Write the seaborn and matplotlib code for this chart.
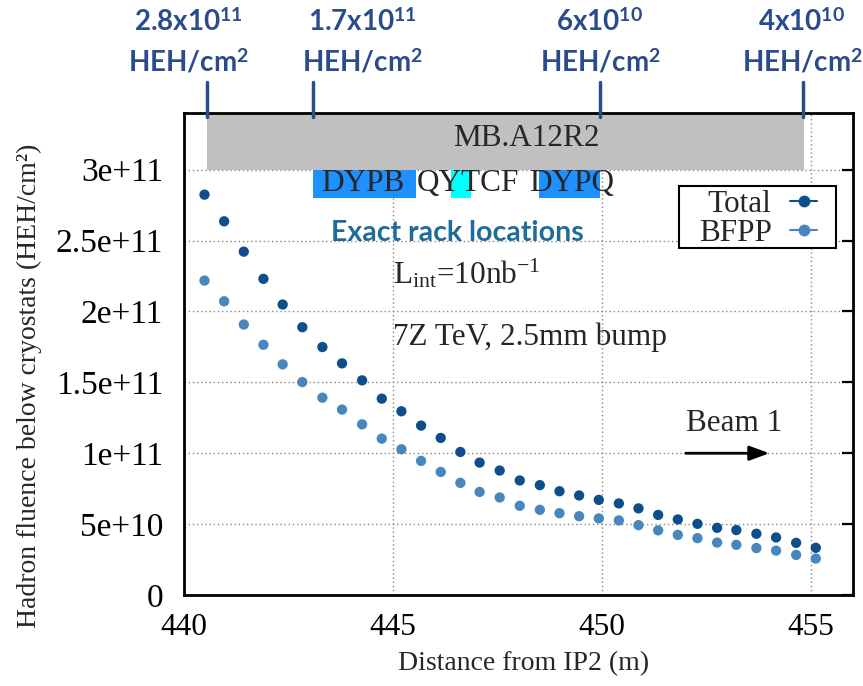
import matplotlib
matplotlib.use("Agg")
import matplotlib.pyplot as plt
import matplotlib.transforms as mtransforms
from matplotlib.lines import Line2D
from matplotlib.patches import Rectangle
import seaborn as sns
import pandas as pd

# ---------------- data ----------------
distance = [440.49, 440.96, 441.43, 441.90, 442.36, 442.83, 443.31, 443.78,
            444.26, 444.73, 445.20, 445.67, 446.14, 446.61, 447.07, 447.55,
            448.03, 448.51, 448.98, 449.45, 449.92, 450.40, 450.87, 451.34,
            451.81, 452.28, 452.75, 453.21, 453.69, 454.16, 454.64, 455.11]
total = [2.824e11, 2.636e11, 2.422e11, 2.230e11, 2.049e11, 1.889e11, 1.749e11, 1.634e11,
         1.514e11, 1.385e11, 1.296e11, 1.195e11, 1.108e11, 1.009e11, 0.934e11, 0.878e11,
         0.808e11, 0.775e11, 0.732e11, 0.702e11, 0.671e11, 0.646e11, 0.611e11, 0.565e11,
         0.533e11, 0.502e11, 0.474e11, 0.458e11, 0.432e11, 0.406e11, 0.368e11, 0.333e11]
bfpp = [2.218e11, 2.072e11, 1.908e11, 1.765e11, 1.627e11, 1.502e11, 1.392e11, 1.308e11,
        1.204e11, 1.103e11, 1.028e11, 0.946e11, 0.868e11, 0.791e11, 0.727e11, 0.688e11,
        0.629e11, 0.601e11, 0.577e11, 0.556e11, 0.540e11, 0.526e11, 0.493e11, 0.456e11,
        0.424e11, 0.401e11, 0.370e11, 0.354e11, 0.331e11, 0.313e11, 0.283e11, 0.257e11]
series_names = ["Total", "BFPP"]

xticks = [440, 445, 450, 455]
yticks = [0, 5e10, 1e11, 1.5e11, 2e11, 2.5e11, 3e11]
ytick_labels = ["0", "5e+10", "1e+11", "1.5e+11", "2e+11", "2.5e+11", "3e+11"]

# rack / element annotations (x start, x end)
rack_name = "MB.A12R2"
rack_span = (440.55, 454.83)
elements = ["DYPB", "QYTCF", "DYPQ"]
element_boxes = [(443.09, 445.56), (446.38, 446.87), (448.48, 449.94)]
element_text_x = [444.28, 446.79, 449.26]

fluence_labels = [r"2.8x10$^{\mathbf{11}}$", r"1.7x10$^{\mathbf{11}}$",
                  r"6x10$^{\mathbf{10}}$", r"4x10$^{\mathbf{10}}$"]
fluence_marks = [440.55, 443.09, 449.96, 454.80]
fluence_label_px = [188, 362, 600, 802]

# ---------------- style ----------------
sns.set_style("white")
plt.rcParams["font.family"] = ["Liberation Serif", "DejaVu Serif"]
plt.rcParams["mathtext.fontset"] = "custom"
plt.rcParams["mathtext.rm"] = "Liberation Serif"
plt.rcParams["mathtext.it"] = "Liberation Serif:italic"
plt.rcParams["mathtext.bf"] = "Lato:bold"

c_total = "#0E4E8C"
c_bfpp = "#4787BE"
navy = "#2B4C8C"
teal = "#1F6B99"
FS = 22.5

W, H = 863, 686
fig = plt.figure(figsize=(W / 100, H / 100), dpi=100)
ax = fig.add_axes([184 / W, 1 - 595 / H, (853 - 184) / W, (595 - 113) / H])

df = pd.DataFrame({
    "distance": distance * 2,
    "fluence": total + bfpp,
    "series": [series_names[0]] * len(total) + [series_names[1]] * len(bfpp),
})
sns.scatterplot(data=df, x="distance", y="fluence", hue="series",
                palette={"Total": c_total, "BFPP": c_bfpp}, s=55,
                edgecolor="none", legend=False, ax=ax, zorder=4)

ax.set_xlim(440, 456)
ax.set_ylim(0, 3.4e11)
ax.set_xticks(xticks)
ax.set_xticklabels([str(t) for t in xticks])
ax.set_yticks(yticks)
ax.set_yticklabels(ytick_labels)
ax.grid(True, color="#888888", linestyle=(0, (1, 2)), linewidth=1.0)
ax.set_axisbelow(True)
ax.tick_params(axis="both", which="major", direction="in", length=8, width=1.6,
               right=True, top=False, colors="black")
ax.tick_params(axis="y", pad=15, labelsize=24)
ax.tick_params(axis="x", pad=13, labelsize=22.5)
for s in ax.spines.values():
    s.set_linewidth(2)
    s.set_color("black")

ax.set_xlabel("Distance from IP2 (m)", fontsize=20, va="center")
ax.xaxis.set_label_coords((524 - 184) / 669, (595 - 664) / 482)
ax.set_ylabel("Hadron fluence below cryostats (HEH/cm²)", fontsize=20, va="center")
ax.yaxis.set_label_coords((29 - 184) / 669, (595 - 386) / 482)

# gray rack bar
ax.add_patch(Rectangle((rack_span[0], 3.0e11), rack_span[1] - rack_span[0], 0.4e11,
                       facecolor="#C0C0C0", edgecolor="none", zorder=2))
ax.text(448.2, 3.22e11, rack_name, ha="center", va="center", fontsize=FS, zorder=3)

# element boxes
box_colors = ["#1E90FF", "#00FFFF", "#1E90FF"]
for (x0, x1), col in zip(element_boxes, box_colors):
    ax.add_patch(Rectangle((x0, 2.8e11), x1 - x0, 0.2e11, facecolor=col,
                           edgecolor="none", zorder=2))
for name, xt in zip(elements, element_text_x):
    ax.text(xt, 2.9e11, name, ha="center", va="center", fontsize=FS, zorder=3)

ax.text(446.55, 2.555e11, "Exact rack locations", ha="center", va="center",
        fontsize=20.5, color=teal, fontweight="bold", family="Lato", zorder=3)
ax.text(445.0, 2.27e11, r"L$_{\mathrm{int}}$=10nb$^{\mathrm{-1}}$", ha="left",
        va="center", fontsize=FS, zorder=3)
ax.text(445.0, 1.82e11, "7Z TeV, 2.5mm bump", ha="left", va="center",
        fontsize=FS, zorder=3)
ax.text(452.0, 1.21e11, "Beam 1", ha="left", va="center", fontsize=FS, zorder=3)
ax.annotate("", xy=(454.0, 1.0e11), xytext=(452.0, 1.0e11),
            arrowprops=dict(arrowstyle="-|>,head_length=0.6,head_width=0.22",
                            mutation_scale=20, color="black", lw=2,
                            shrinkA=0, shrinkB=0), zorder=3)

# legend (frame drawn separately so its padding matches)
ax.add_patch(Rectangle(((679 - 184) / 669, (595 - 248) / 482), (836 - 679) / 669,
                       (248 - 186) / 482, transform=ax.transAxes, facecolor="white",
                       edgecolor="black", lw=1.5, zorder=5))
handles = [Line2D([0], [0], color=c_total, marker="o", markersize=7.5, lw=1.5),
           Line2D([0], [0], color=c_bfpp, marker="o", markersize=7.5, lw=1.5)]
leg = ax.legend(handles, series_names, loc="upper right",
                bbox_to_anchor=((817 - 184) / 669, (595 - 190) / 482), markerfirst=False,
                frameon=False, fontsize=FS, handlelength=0.85, borderpad=0.0,
                labelspacing=0.0, handletextpad=0.6, borderaxespad=0)
leg.set_zorder(6)

# fluence labels above the plot
trans = mtransforms.blended_transform_factory(ax.transData, fig.transFigure)
for xm in fluence_marks:
    ax.plot([xm, xm], [1 - 82 / H, 1 - 117 / H], color=navy, lw=2.5,
            transform=trans, clip_on=False, zorder=6)
for lab, px in zip(fluence_labels, fluence_label_px):
    fig.text(px / W, 1 - 22 / H, lab, ha="center", va="center", fontsize=20,
             color=navy, fontweight="bold", family="Lato")
    fig.text(px / W, 1 - 62 / H, r"HEH/cm$^{\mathbf{2}}$", ha="center", va="center",
             fontsize=20, color=navy, fontweight="bold", family="Lato")

fig.savefig("out.png", dpi=100)
